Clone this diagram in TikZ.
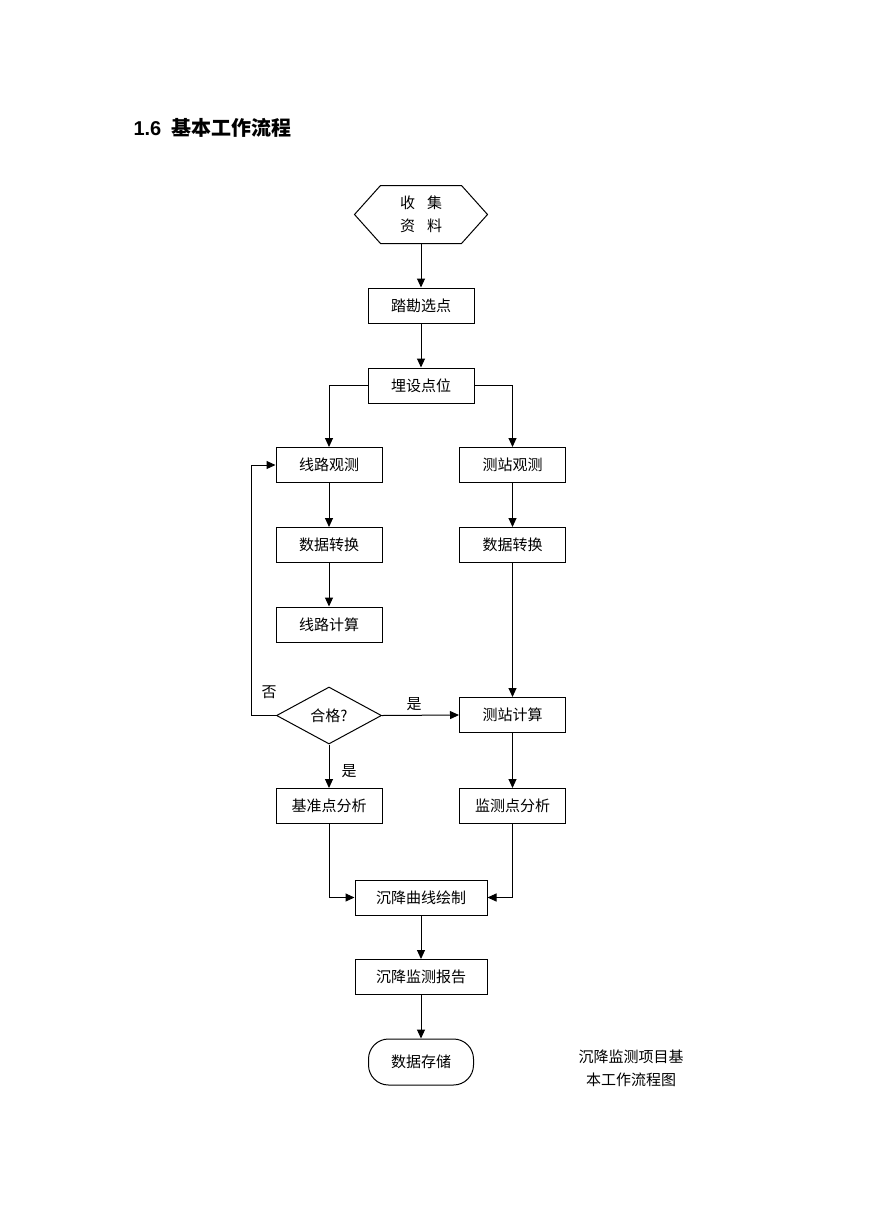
\documentclass[tikz,border=0pt]{standalone}
\usepackage{fontspec}
\setmainfont{Liberation Serif}
\newfontfamily\cjk{Noto Sans CJK SC}
\newfontfamily\cjkb{Noto Sans CJK SC Bold}
\newfontfamily\titlesans{Liberation Sans}
\usetikzlibrary{shapes.geometric,arrows.meta}
\begin{document}
\begin{tikzpicture}[x=1pt,y=-1pt,
  line width=1pt,
  every node/.style={font=\cjk\fontsize{15pt}{23pt}\selectfont, text=black},
  box/.style={draw, rectangle, inner sep=0pt, minimum width=106pt, minimum height=35pt},
  wbox/.style={box, minimum width=132pt},
  dec/.style={draw, diamond, inner sep=0pt, minimum width=105pt, minimum height=57pt},
  term/.style={draw, rectangle, rounded corners=20pt, inner sep=0pt, minimum width=105pt, minimum height=46pt},
  arr/.style={-{Triangle[length=9pt,width=8pt]}},
  lbl/.style={inner sep=0pt}
]
\useasboundingbox (0,0) rectangle (869,1228);
% title
\node[lbl, anchor=west] (title) at (133,128) {\titlesans\bfseries\fontsize{20pt}{22pt}\selectfont 1.6\hspace{0.5em}\cjkb 基本工作流程};
% hexagon
\node[inner sep=0pt, minimum width=132pt, minimum height=57pt, align=center] (hex) at (421,214.5) {收\hspace{0.8em}集\\资\hspace{0.8em}料};
\draw (hex.west) -- ([xshift=26pt]hex.north west) -- ([xshift=-26pt]hex.north east) -- (hex.east) -- ([xshift=-26pt]hex.south east) -- ([xshift=26pt]hex.south west) -- cycle;
\node[box] (p1) at (421,305.5) {踏勘选点};
\node[box] (p2) at (421,385.5) {埋设点位};
\node[box] (l1) at (329,465) {线路观测};
\node[box] (l2) at (329,545) {数据转换};
\node[box] (l3) at (329,624.5) {线路计算};
\node[box] (r1) at (512.5,465) {测站观测};
\node[box] (r2) at (512.5,545) {数据转换};
\node[dec] (dia) at (329,715.5) {合格?};
\node[box] (r3) at (512.5,715) {测站计算};
\node[box] (b1) at (329,806) {基准点分析};
\node[box] (r4) at (512.5,806) {监测点分析};
\node[wbox] (c1) at (421,897.5) {沉降曲线绘制};
\node[wbox] (c2) at (421,977) {沉降监测报告};
\node[term] (end) at (421,1062) {数据存储};
\node[lbl, align=center] (cap) at (631,1068.5) {沉降监测项目基\\本工作流程图};
% labels
\node[lbl] (no) at (269,692) {否};
\node[lbl] (yes1) at (414,704) {是};
\node[lbl] (yes2) at (349,771) {是};
% connectors
\coordinate (loop) at (251,715.5);
\draw[arr] (hex.south) -- (p1.north);
\draw[arr] (p1.south) -- (p2.north);
\draw[arr] (p2.west) -| (l1.north);
\draw[arr] (p2.east) -| (r1.north);
\draw[arr] (l1.south) -- (l2.north);
\draw[arr] (l2.south) -- (l3.north);
\draw[arr] (r1.south) -- (r2.north);
\draw[arr] (r2.south) -- (r3.north);
\draw[arr] (dia.west) -- (loop) |- (l1.west);
\draw[arr] (dia.east) -- (r3.west);
\draw[arr] (dia.south) -- (b1.north);
\draw[arr] (r3.south) -- (r4.north);
\draw[arr] (b1.south) |- (c1.west);
\draw[arr] (r4.south) |- (c1.east);
\draw[arr] (c1.south) -- (c2.north);
\draw[arr] (c2.south) -- (end.north);
\end{tikzpicture}
\end{document}
